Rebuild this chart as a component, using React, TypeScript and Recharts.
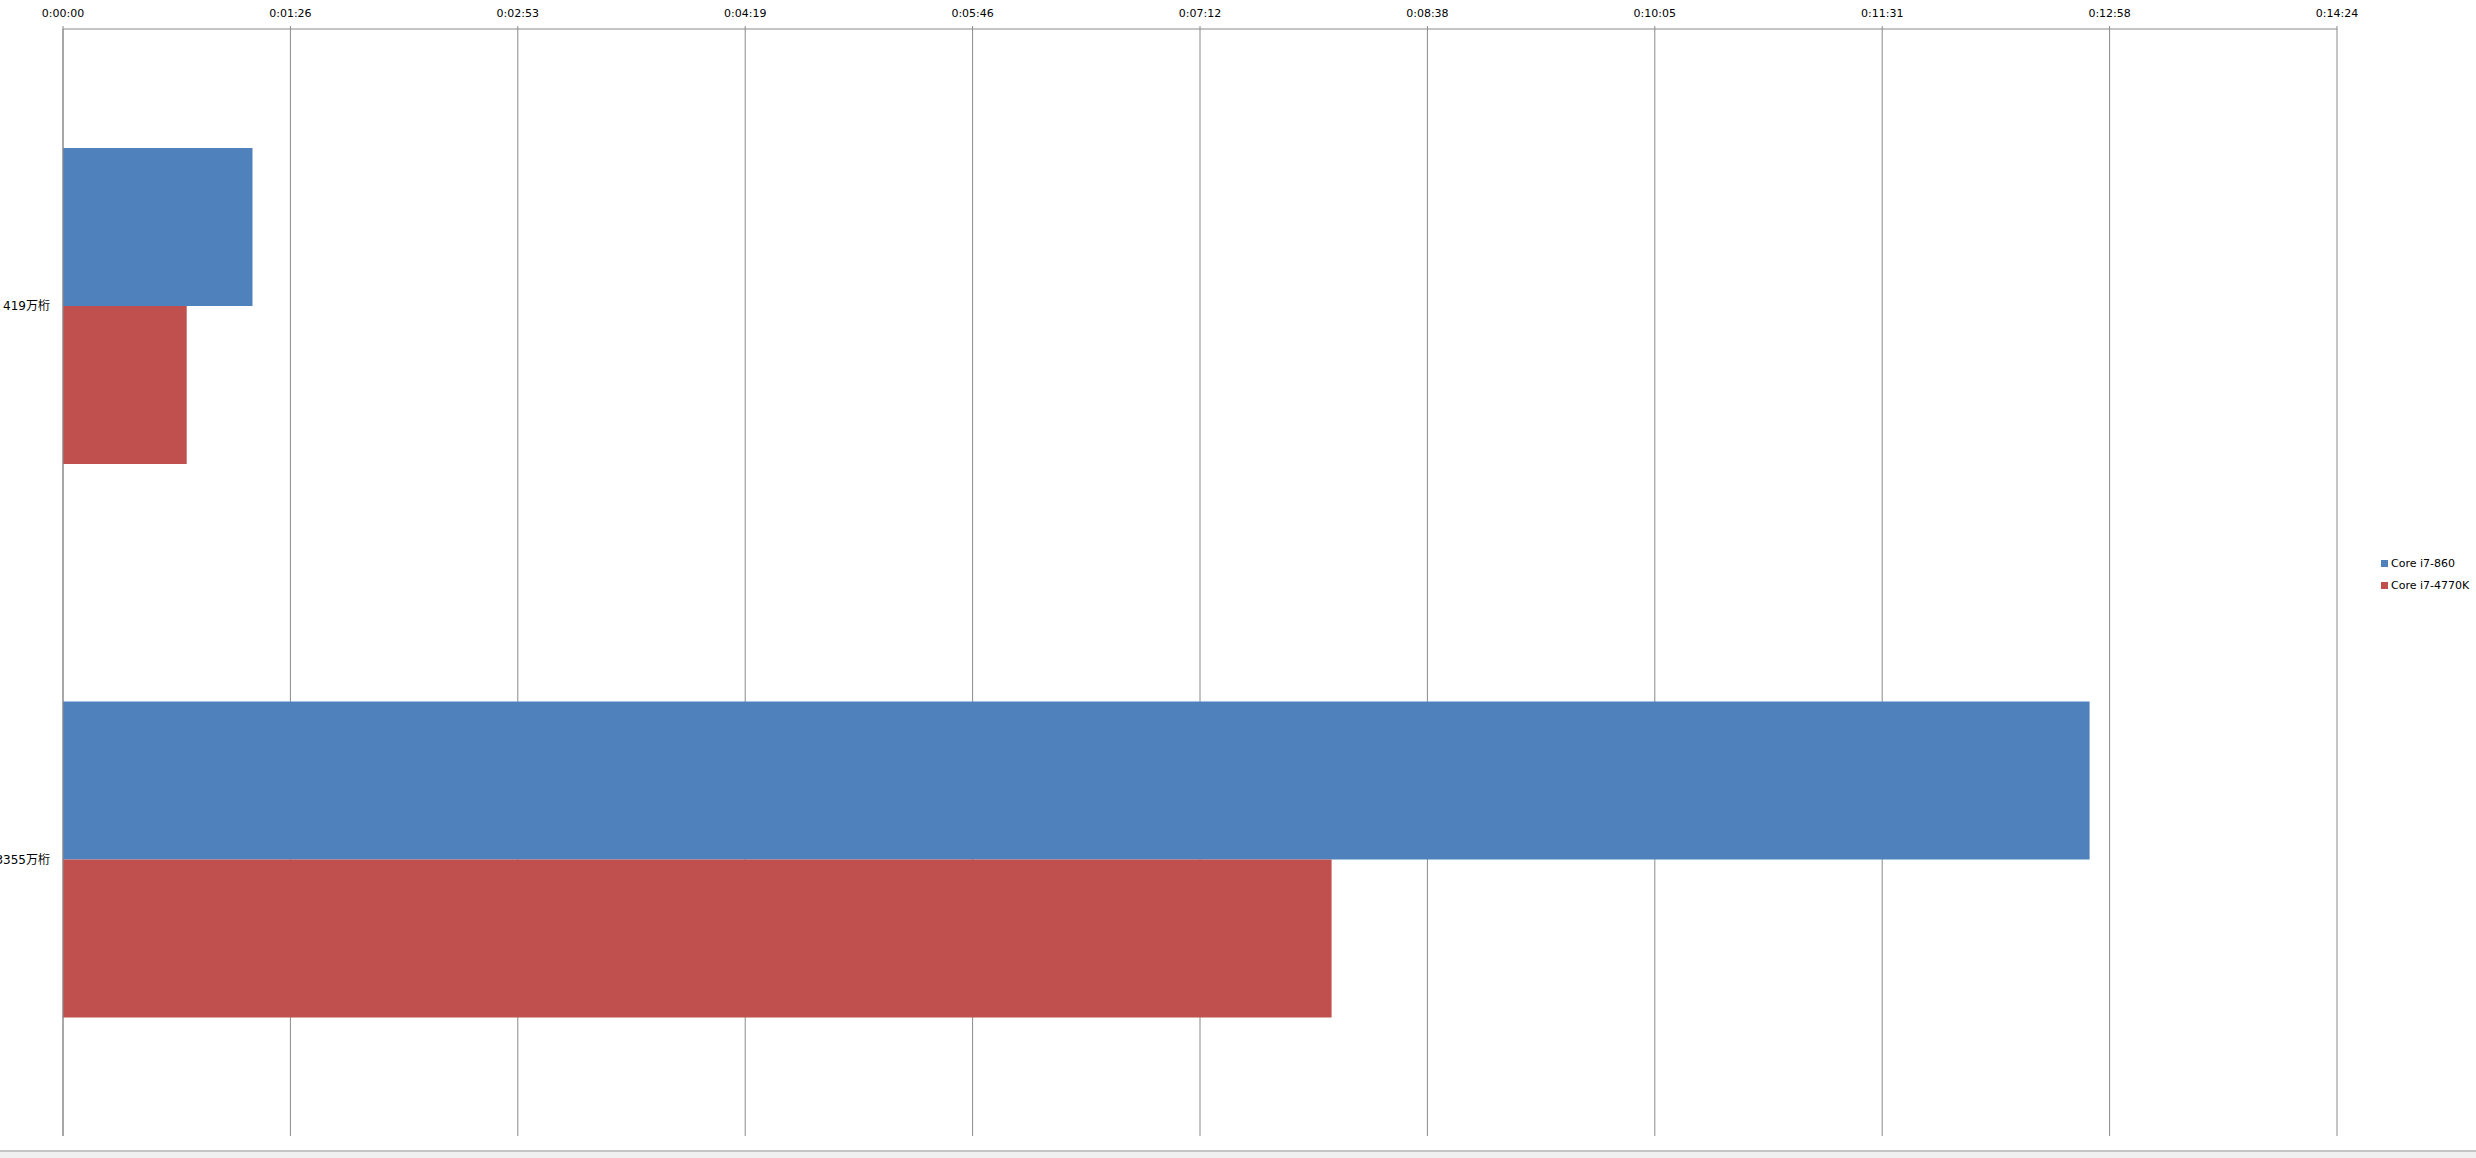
import { BarChart, Bar, XAxis, YAxis, CartesianGrid, Legend } from 'recharts';

// 処理時間 (秒)
const categories = ['419万桁', '3355万桁'];
const core860 = [72, 770];
const core4770k = [47, 482];
const seriesNames = ['Core i7-860', 'Core i7-4770K'];
const seriesColors = ['#4F81BD', '#C0504D'];

// 0:00:00 〜 0:14:24 の目盛り (秒)
const timeTicks = [0, 86.4, 172.8, 259.2, 345.6, 432, 518.4, 604.8, 691.2, 777.6, 864];
const bandTicks = [0, 1, 2];

const AXIS_GRAY = '#8a8a8a';
const FONT = '"DejaVu Sans", "Noto Sans CJK SC", sans-serif';

// 秒 -> h:mm:ss
const formatTime = (sec: number) => {
  const s = Math.round(sec);
  const h = Math.floor(s / 3600);
  const m = Math.floor((s % 3600) / 60);
  const r = s % 60;
  return `${h}:${m.toString().padStart(2, '0')}:${r.toString().padStart(2, '0')}`;
};

const chartData = categories.map((name, i) => ({
  name,
  [seriesNames[0]]: core860[i],
  [seriesNames[1]]: core4770k[i],
}));

const LegendBox = () => (
  <div style={{ paddingLeft: 44, fontFamily: FONT, fontSize: 11, color: '#000' }}>
    {seriesNames.map((n, i) => (
      <div key={n} style={{ height: 22, display: 'flex', alignItems: 'center' }}>
        <span style={{ width: 7, height: 7, background: seriesColors[i], display: 'inline-block', marginRight: 3 }} />
        <span>{n}</span>
      </div>
    ))}
  </div>
);

export default function App() {
  return (
    <div style={{ position: 'absolute', left: 0, top: 0, width: 2476, height: 1158, background: '#fff' }}>
      <BarChart
        width={2476}
        height={1158}
        data={chartData}
        layout="vertical"
        barCategoryGap="21.5%"
        barGap={0}
        margin={{ top: 0, right: 0, left: 0, bottom: 22 }}
      >
        <CartesianGrid horizontal={false} stroke={AXIS_GRAY} />
        <XAxis
          type="number"
          orientation="top"
          domain={[0, 864]}
          ticks={timeTicks}
          tickFormatter={formatTime}
          height={29}
          tickSize={3}
          tickMargin={9}
          axisLine={{ stroke: AXIS_GRAY }}
          tickLine={{ stroke: AXIS_GRAY }}
          tick={{ fontSize: 11, fill: '#000', fontFamily: FONT }}
          interval={0}
        />
        {/* 区切り目盛り用の軸 */}
        <YAxis
          yAxisId={0}
          type="number"
          domain={[0, 2]}
          ticks={bandTicks}
          width={0}
          tick={false}
          tickSize={4}
          axisLine={false}
          tickLine={{ stroke: AXIS_GRAY }}
        />
        <YAxis
          yAxisId={1}
          type="category"
          dataKey="name"
          width={63}
          tickSize={0}
          tickMargin={13}
          axisLine={{ stroke: AXIS_GRAY }}
          tickLine={false}
          tick={{ fontSize: 12, fill: '#000', fontFamily: FONT }}
        />
        <Legend
          layout="vertical"
          align="right"
          verticalAlign="middle"
          content={<LegendBox />}
          wrapperStyle={{ width: 139, top: 552 }}
        />
        <Bar yAxisId={1} dataKey={seriesNames[0]} fill={seriesColors[0]} isAnimationActive={false} />
        <Bar yAxisId={1} dataKey={seriesNames[1]} fill={seriesColors[1]} isAnimationActive={false} />
      </BarChart>
      <div
        style={{
          position: 'absolute',
          left: 0,
          top: 1150,
          width: 2476,
          height: 6,
          background: '#f0f0f0',
          borderTop: '2px solid #c4c4c4',
        }}
      />
    </div>
  );
}
